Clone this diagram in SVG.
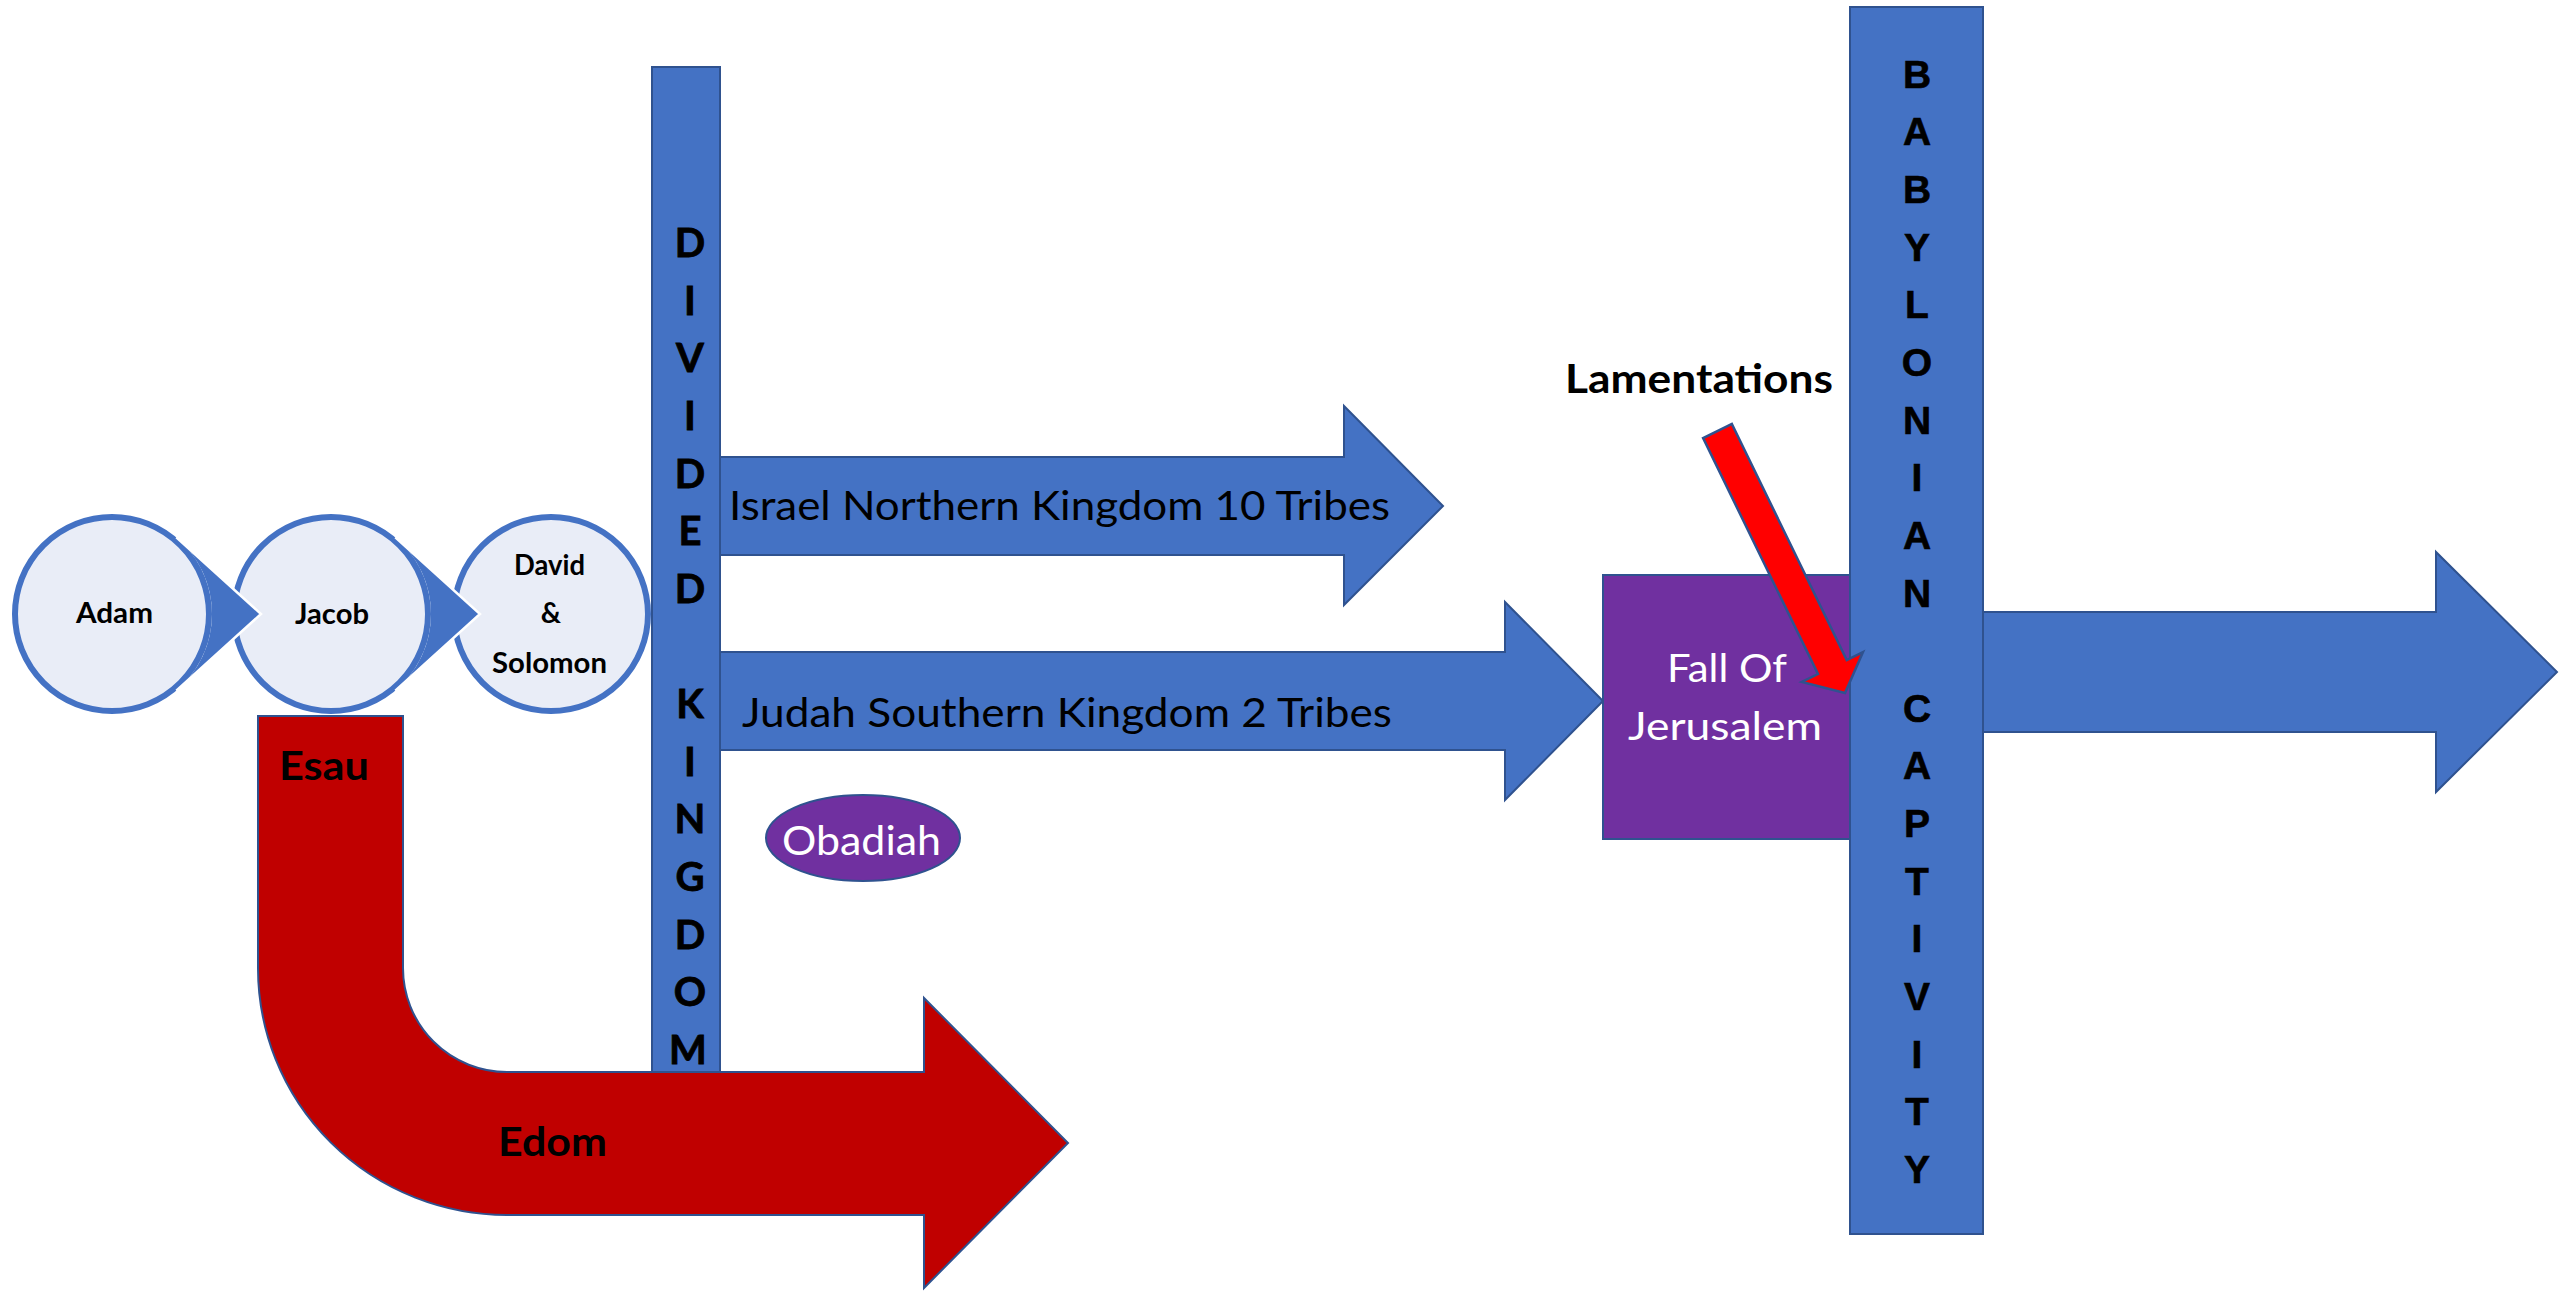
<svg xmlns="http://www.w3.org/2000/svg" width="2560" height="1297" viewBox="0 0 2560 1297">
<style>
.bg{fill:#FFFFFF}
.circ{fill:#E9EDF7;stroke:#4472C4;stroke-width:6}
.blue{fill:#4472C4;stroke:#2F528F;stroke-width:2}
.purple{fill:#7030A0;stroke:#2F528F;stroke-width:2}
.dred{fill:#C00000;stroke:#2F528F;stroke-width:2}
.red{fill:#FF0000;stroke:#2F528F;stroke-width:2.5}
.ptr{fill:#4472C4;stroke:none}
.ptredge{fill:none;stroke:#FFFFFF;stroke-width:2.5;stroke-linejoin:miter}
.cb{font-family:Lato,"Open Sans","Liberation Sans",sans-serif;font-weight:bold;fill:#000000}
.cr{font-family:Lato,"Open Sans","Liberation Sans",sans-serif;font-weight:normal;fill:#000000}
.w{fill:#FFFFFF}
.vd{font-family:Lato,"Open Sans","Liberation Sans",sans-serif;font-weight:bold;font-size:40px;fill:#000000;stroke:#000000;stroke-width:0.8;text-anchor:middle}
.vb{font-family:"Liberation Sans",Arial,sans-serif;font-weight:bold;font-size:39px;fill:#000000;stroke:#000000;stroke-width:0.6;text-anchor:middle}
.mid{text-anchor:middle}
</style>
<rect class="bg" x="0" y="0" width="2560" height="1297"/>

<g id="edom">
<path class="dred" d="M258,716 H403 V968 A104,104 0 0 0 507,1072 H924 V998 L1068,1143 L924,1288 V1215 H507 A249,247 0 0 1 258,968 Z"/>
<text class="cb mid" x="324" y="780" font-size="40" textLength="90" lengthAdjust="spacingAndGlyphs">Esau</text>
<text class="cb mid" x="552.5" y="1156" font-size="40" textLength="109" lengthAdjust="spacingAndGlyphs">Edom</text>
</g>

<g id="adam">
<circle class="circ" cx="112" cy="614" r="97"/>
<text class="cb mid" x="114.5" y="623" font-size="28" textLength="77" lengthAdjust="spacingAndGlyphs">Adam</text>
</g>
<g id="jacob">
<circle class="circ" cx="331" cy="614" r="97"/>
<text class="cb mid" x="332" y="624" font-size="28" textLength="74" lengthAdjust="spacingAndGlyphs">Jacob</text>
</g>
<g id="david-solomon">
<circle class="circ" cx="551" cy="614" r="97"/>
<text class="cb mid" x="549.5" y="575" font-size="28" textLength="71" lengthAdjust="spacingAndGlyphs">David</text>
<text class="cb mid" x="551" y="623" font-size="28">&amp;</text>
<text class="cb mid" x="549.5" y="673" font-size="28" textLength="115" lengthAdjust="spacingAndGlyphs">Solomon</text>
</g>

<g id="israel">
<polygon class="blue" points="719,457 1344,457 1344,406 1443,506 1344,605 1344,555 719,555"/>
<text class="cr" x="729" y="520" font-size="40" textLength="661" lengthAdjust="spacingAndGlyphs">Israel Northern Kingdom 10 Tribes</text>
</g>
<g id="judah">
<polygon class="blue" points="719,652 1505,652 1505,602 1603,701 1505,800 1505,750 719,750"/>
<text class="cr" x="742" y="727" font-size="40" textLength="650" lengthAdjust="spacingAndGlyphs">Judah Southern Kingdom 2 Tribes</text>
</g>

<g id="divided-kingdom">
<rect class="blue" x="652" y="67" width="68" height="1005"/>
<text class="vd"><tspan x="690" y="257">D</tspan><tspan x="690" y="314.6">I</tspan><tspan x="690" y="372.3">V</tspan><tspan x="690" y="429.9">I</tspan><tspan x="690" y="487.6">D</tspan><tspan x="690" y="545.2">E</tspan><tspan x="690" y="602.8">D</tspan><tspan x="690" y="718.1">K</tspan><tspan x="690" y="775.8">I</tspan><tspan x="690" y="833.4">N</tspan><tspan x="690" y="891">G</tspan><tspan x="690" y="948.7">D</tspan><tspan x="690" y="1006.3">O</tspan><tspan x="688" y="1064">M</tspan></text>
</g>

<g id="obadiah">
<ellipse class="purple" cx="863" cy="838" rx="97" ry="43"/>
<text class="cr w mid" x="861.5" y="855" font-size="40" textLength="159" lengthAdjust="spacingAndGlyphs">Obadiah</text>
</g>

<g id="fall-of-jerusalem">
<rect class="purple" x="1603" y="575" width="247" height="264"/>
<text class="cr w mid" x="1727" y="682" font-size="38" textLength="120" lengthAdjust="spacingAndGlyphs">Fall Of</text>
<text class="cr w mid" x="1725" y="740" font-size="38" textLength="194" lengthAdjust="spacingAndGlyphs">Jerusalem</text>
</g>

<g id="babylon-arrow">
<polygon class="blue" points="1983,612 2436,612 2436,552 2557,672 2436,792 2436,732 1983,732"/>
</g>

<g id="babylonian-captivity">
<rect class="blue" x="1850" y="7" width="133" height="1227"/>
<text class="vb"><tspan x="1917" y="87.6">B</tspan><tspan x="1917" y="145.3">A</tspan><tspan x="1917" y="202.9">B</tspan><tspan x="1917" y="260.6">Y</tspan><tspan x="1917" y="318.2">L</tspan><tspan x="1917" y="375.9">O</tspan><tspan x="1917" y="433.5">N</tspan><tspan x="1917" y="491.2">I</tspan><tspan x="1917" y="548.8">A</tspan><tspan x="1917" y="606.5">N</tspan><tspan x="1917" y="721.8">C</tspan><tspan x="1917" y="779.4">A</tspan><tspan x="1917" y="837.1">P</tspan><tspan x="1917" y="894.7">T</tspan><tspan x="1917" y="952.4">I</tspan><tspan x="1917" y="1010">V</tspan><tspan x="1917" y="1067.7">I</tspan><tspan x="1917" y="1125.3">T</tspan><tspan x="1917" y="1183">Y</tspan></text>
</g>

<g id="lamentations">
<text class="cb mid" x="1699" y="393" font-size="40" textLength="268" lengthAdjust="spacingAndGlyphs">Lamentations</text>
</g>

<g id="connectors">
<path class="ptr" d="M176.3,537.4 L261,614 L176.3,690.6 A100,100 0 0 0 176.3,537.4 Z"/>
<polyline class="ptredge" points="176.3,537.4 261,614 176.3,690.6"/>
<path class="ptr" d="M395.3,537.4 L480,614 L395.3,690.6 A100,100 0 0 0 395.3,537.4 Z"/>
<polyline class="ptredge" points="395.3,537.4 480,614 395.3,690.6"/>
<polygon class="red" transform="translate(1717.5,431) rotate(64.05)" points="0,-16 262.5,-16 262.5,-34 291.4,0 262.5,34 262.5,16 0,16"/>
</g>
</svg>
